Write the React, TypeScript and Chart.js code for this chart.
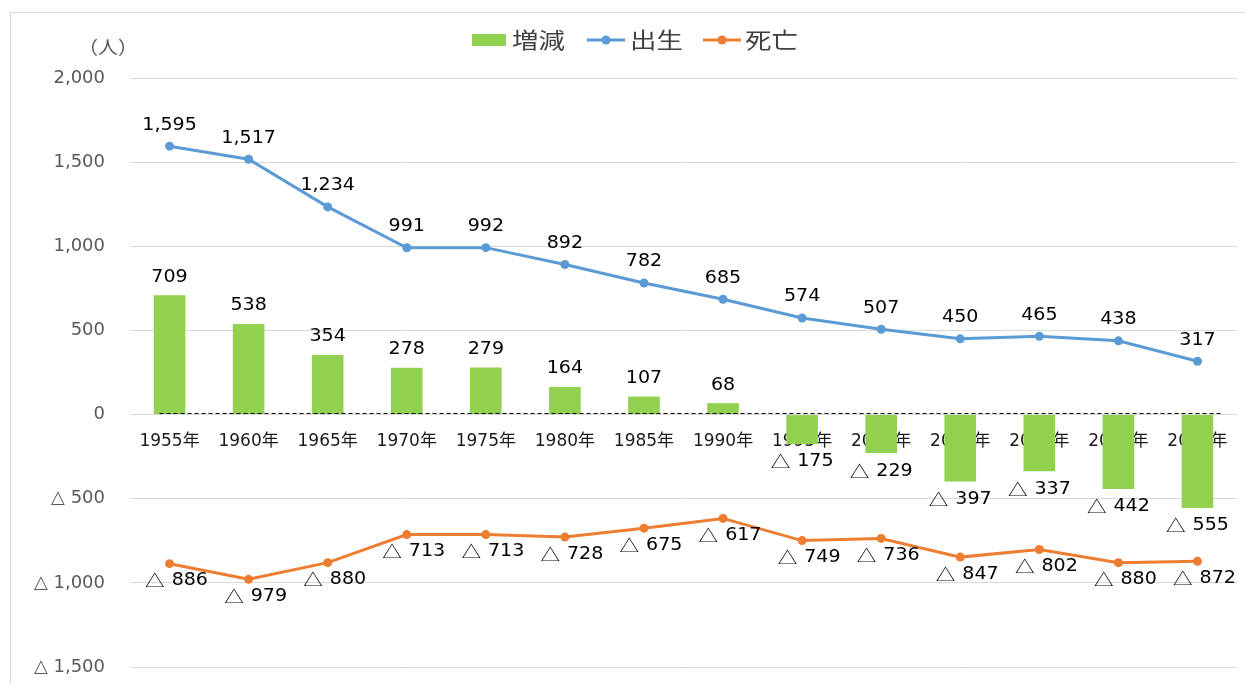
import React, { useEffect, useRef } from 'react';
import { Chart, registerables } from 'chart.js';

Chart.register(...registerables);

const categories = ['1955年', '1960年', '1965年', '1970年', '1975年', '1980年', '1985年', '1990年', '1995年', '2000年', '2005年', '2010年', '2015年', '2020年'];
const changeValues = [709, 538, 354, 278, 279, 164, 107, 68, -175, -229, -397, -337, -442, -555];
const birthValues = [1595, 1517, 1234, 991, 992, 892, 782, 685, 574, 507, 450, 465, 438, 317];
const deathValues = [-886, -979, -880, -713, -713, -728, -675, -617, -749, -736, -847, -802, -880, -872];
const yMin = -1500;
const yMax = 2000;
const yStep = 500;
const seriesNames = ['増減', '出生', '死亡'];
const unitLabel = '（人）';
const NEG_MARK = '△';

const GREEN = '#92D050';
const BLUE = '#5B9BD5';
const ORANGE = '#ED7D31';
const FONT = '"DejaVu Sans", "Noto Sans CJK JP", sans-serif';
const CJK = '"Noto Sans CJK JP", sans-serif';

const num = (v: number) => Math.abs(v).toLocaleString('en-US');
const fmt = (v: number) => (v < 0 ? NEG_MARK + ' ' : '') + num(v);

// Draws a value label centred on x, with the negative mark in a CJK font (wider, like the original)
const drawValue = (ctx: any, v: number, x: number, y: number) => {
  const sx = 1.12;
  const numFont = '17px ' + FONT;
  const triFont = '17px ' + CJK;
  ctx.save();
  ctx.textBaseline = 'middle';
  ctx.textAlign = 'left';
  ctx.fillStyle = '#000';
  ctx.font = numFont;
  const nw = ctx.measureText(num(v)).width * sx;
  let tw = 0;
  const gap = 7;
  if (v < 0) {
    ctx.font = triFont;
    tw = ctx.measureText(NEG_MARK).width * 1.15;
  }
  const total = nw + (v < 0 ? tw + gap : 0);
  let cx = x - total / 2;
  if (v < 0) {
    ctx.font = triFont;
    ctx.save();
    ctx.translate(cx, y);
    ctx.scale(1.15, 1);
    ctx.fillText(NEG_MARK, 0, 0);
    ctx.restore();
    cx += tw + gap;
  }
  ctx.font = numFont;
  ctx.translate(cx, y);
  ctx.scale(sx, 1);
  ctx.fillText(num(v), 0, 0);
  ctx.restore();
};

const drawStretched = (ctx: any, text: string, x: number, y: number, sx: number) => {
  ctx.save();
  ctx.translate(x, y);
  ctx.scale(sx, 1);
  ctx.fillText(text, 0, 0);
  ctx.restore();
};

const decorPlugin = {
  id: 'decor',
  beforeDraw(chart: any) {
    const ctx = chart.ctx;
    ctx.save();
    ctx.fillStyle = '#ffffff';
    ctx.fillRect(0, 0, chart.width, chart.height);
    ctx.strokeStyle = '#d9d9d9';
    ctx.lineWidth = 1;
    ctx.strokeRect(10.5, 12.5, 1400, 800);
    ctx.restore();
  },
  afterDatasetsDraw(chart: any) {
    const ctx = chart.ctx;
    const xs = chart.scales.x;
    const ys = chart.scales.y;
    ctx.save();
    // dashed zero line
    const y0 = Math.round(ys.getPixelForValue(0)) - 1.5;
    ctx.strokeStyle = '#000';
    ctx.lineWidth = 1.2;
    ctx.setLineDash([4, 3]);
    ctx.beginPath();
    ctx.moveTo(xs.getPixelForValue(0) - 10, y0);
    ctx.lineTo(xs.getPixelForValue(categories.length - 1) + 26, y0);
    ctx.stroke();
    ctx.setLineDash([]);
    ctx.restore();

    // data labels
    chart.getDatasetMeta(0).data.forEach((el: any, i: number) => {
      const v = changeValues[i];
      drawValue(ctx, v, el.x, v >= 0 ? el.y - 18 : el.y + 18);
    });
    chart.getDatasetMeta(1).data.forEach((el: any, i: number) => {
      drawValue(ctx, birthValues[i], el.x, el.y - 21);
    });
    chart.getDatasetMeta(2).data.forEach((el: any, i: number) => {
      drawValue(ctx, deathValues[i], el.x + 7, el.y + 17);
    });
  },
  afterDraw(chart: any) {
    const ctx = chart.ctx;
    ctx.save();
    // unit label
    ctx.font = '18px ' + CJK;
    ctx.fillStyle = '#595959';
    ctx.textAlign = 'center';
    ctx.textBaseline = 'middle';
    drawStretched(ctx, unitLabel, 108, 47, 1.1);

    // legend
    const ly = 40;
    ctx.font = '22px ' + CJK;
    ctx.textAlign = 'left';
    const lsx = 1.2;
    ctx.fillStyle = GREEN;
    ctx.fillRect(472, ly - 6, 34, 12);
    ctx.fillStyle = '#404040';
    drawStretched(ctx, seriesNames[0], 512, ly, lsx);
    const lineItem = (x: number, color: string, label: string, tx: number) => {
      ctx.strokeStyle = color;
      ctx.lineWidth = 3;
      ctx.beginPath();
      ctx.moveTo(x, ly);
      ctx.lineTo(x + 38, ly);
      ctx.stroke();
      ctx.fillStyle = color;
      ctx.beginPath();
      ctx.arc(x + 19, ly, 4.5, 0, Math.PI * 2);
      ctx.fill();
      ctx.fillStyle = '#404040';
      drawStretched(ctx, label, tx, ly, lsx);
    };
    lineItem(587, BLUE, seriesNames[1], 630);
    lineItem(703, ORANGE, seriesNames[2], 745);
    ctx.restore();
  },
};

export default function App() {
  const canvasRef = useRef<HTMLCanvasElement | null>(null);

  useEffect(() => {
    document.body.style.margin = '0';
    const canvas = canvasRef.current;
    if (!canvas) return;
    const chart = new Chart(canvas, {
      type: 'bar',
      data: {
        labels: categories,
        datasets: [
          {
            type: 'bar',
            label: seriesNames[0],
            data: changeValues,
            backgroundColor: GREEN,
            barPercentage: 0.4,
            categoryPercentage: 1,
            order: 3,
          },
          {
            type: 'line',
            label: seriesNames[1],
            data: birthValues,
            borderColor: BLUE,
            backgroundColor: BLUE,
            borderWidth: 3,
            pointRadius: 4.5,
            pointBackgroundColor: BLUE,
            pointBorderWidth: 0,
            tension: 0,
            order: 1,
          },
          {
            type: 'line',
            label: seriesNames[2],
            data: deathValues,
            borderColor: ORANGE,
            backgroundColor: ORANGE,
            borderWidth: 3,
            pointRadius: 4.5,
            pointBackgroundColor: ORANGE,
            pointBorderWidth: 0,
            tension: 0,
            order: 2,
          },
        ],
      } as any,
      options: {
        responsive: false,
        animation: false,
        devicePixelRatio: 1,
        layout: { padding: { left: 10, right: 8, top: 78, bottom: 17 } },
        plugins: {
          legend: { display: false },
          tooltip: { enabled: false },
        },
        scales: {
          x: {
            type: 'category',
            position: { y: 0 } as any,
            z: 1,
            afterFit: (scale: any) => {
              scale.height = 0;
            },
            grid: { display: false },
            border: { display: false },
            ticks: {
              color: '#1a1a1a',
              font: { size: 17, family: FONT },
              padding: 9,
              maxRotation: 0,
              autoSkip: false,
            },
          },
          y: {
            min: yMin,
            max: yMax,
            afterFit: (scale: any) => {
              scale.width = 120;
              scale.paddingTop = 10;
              scale.paddingBottom = 10;
            },
            grid: { color: '#d9d9d9', lineWidth: 1, drawTicks: false },
            border: { display: false },
            ticks: {
              stepSize: yStep,
              color: '#595959',
              padding: 25,
              font: { size: 18, family: FONT },
              callback: (v: any) => fmt(Number(v)),
            },
          },
        },
      } as any,
      plugins: [decorPlugin],
    });
    return () => chart.destroy();
  }, []);

  return (
    <div style={{ position: 'fixed', left: 0, top: 0, width: 1245, height: 684, overflow: 'hidden', background: '#fff' }}>
      <canvas ref={canvasRef} width={1245} height={684} style={{ display: 'block' }} />
    </div>
  );
}
